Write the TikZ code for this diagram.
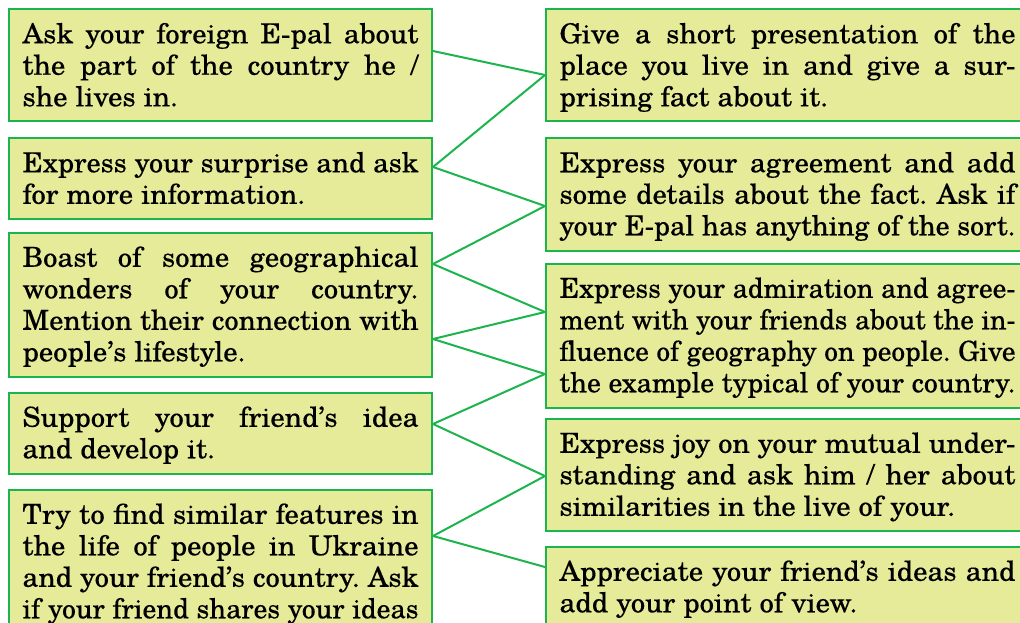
\documentclass[tikz,border=0pt]{standalone}
\usepackage{fontspec}
\usepackage{graphicx}
\setmainfont{texgyreschola-regular.otf}[FakeStretch=1.04, FakeBold=0.3]
\definecolor{bgreen}{RGB}{28,180,76}
\definecolor{bfill}{RGB}{230,235,153}
\newsavebox\linebox
\newcommand\stt{\rule[-6.5pt]{0pt}{31.5pt}}
\newcommand\jl[1]{{\spaceskip=0pt\xspaceskip=0pt\frenchspacing
  \sbox\linebox{#1}%
  \ifdim\wd\linebox>\hsize
    \resizebox{\hsize}{\height}{\usebox\linebox}%
  \else
    \makebox[\hsize][s]{#1}%
  \fi}\stt}
\newcommand\lastl[1]{{\spaceskip=0pt\xspaceskip=0pt\frenchspacing\stt#1}}
\begin{document}
\begin{tikzpicture}[x=1pt,y=-1pt,
  box/.style={draw=bgreen, line width=2pt, fill=bfill, anchor=north west,
    inner xsep=13.5pt, inner ysep=8.75pt, align=left,
    font=\fontsize{27.5}{31.5}\selectfont},
  lbox/.style={box, text width=396pt},
  rbox/.style={box, text width=456pt},
  link/.style={draw=bgreen, line width=2pt, line cap=round}]
\useasboundingbox (0,0) rectangle (1020,623);
\clip (0,0) rectangle (1020,623);
% left column
\node[lbox] (L1) at (8,8.5) {\jl{Ask your foreign E-pal about}\\\jl{the part of the country he /}\\\lastl{she lives in.}};
\node[lbox] (L2) at (8,137.5) {\jl{Express your surprise and ask}\\\lastl{for more information.}};
\node[lbox] (L3) at (8,232) {\jl{Boast of some geographical}\\\jl{wonders of your country.}\\\jl{Mention their connection with}\\\lastl{people’s lifestyle.}};
\node[lbox] (L4) at (8,392) {\jl{Support your friend’s idea}\\\lastl{and develop it.}};
\node[lbox] (L5) at (8,489) {\jl{Try to find similar features in}\\\jl{the life of people in Ukraine}\\\jl{and your friend’s country. Ask}\\\jl{if your friend shares your ideas}};
% right column
\node[rbox] (R1) at (545,8.5) {\jl{Give a short presentation of the}\\\jl{place you live in and give a sur-}\\\lastl{prising fact about it.}};
\node[rbox] (R2) at (545,137.5) {\jl{Express your agreement and add}\\\jl{some details about the fact. Ask if}\\\jl{your E-pal has anything of the sort.}};
\node[rbox] (R3) at (545,263) {\jl{Express your admiration and agree-}\\\jl{ment with your friends about the in-}\\\jl{fluence of geography on people. Give}\\\jl{the example typical of your country.}};
\node[rbox] (R4) at (545,418) {\jl{Express joy on your mutual under-}\\\jl{standing and ask him / her about}\\\lastl{similarities in the live of your.}};
\node[rbox] (R5) at (545,546) {\jl{Appreciate your friend’s ideas and}\\\lastl{add your point of view.}};
% connector ends
\coordinate (l1) at ([yshift=-42.5pt]L1.north east);
\coordinate (l2) at ([yshift=-29.5pt]L2.north east);
\coordinate (l3a) at ([yshift=-32pt]L3.north east);
\coordinate (l3b) at ([yshift=-107pt]L3.north east);
\coordinate (l4) at ([yshift=-32pt]L4.north east);
\coordinate (l5) at ([yshift=-47pt]L5.north east);
\coordinate (r1) at ([yshift=-66.5pt]R1.north west);
\coordinate (r2) at ([yshift=-68.5pt]R2.north west);
\coordinate (r3a) at ([yshift=-49pt]R3.north west);
\coordinate (r3b) at ([yshift=-111pt]R3.north west);
\coordinate (r4) at ([yshift=-58pt]R4.north west);
\coordinate (r5) at ([yshift=-21pt]R5.north west);
\draw[link] (l1) -- (r1);
\draw[link] (l2) -- (r1);
\draw[link] (l2) -- (r2);
\draw[link] (l3a) -- (r2);
\draw[link] (l3a) -- (r3a);
\draw[link] (l3b) -- (r3a);
\draw[link] (l3b) -- (r3b);
\draw[link] (l4) -- (r3b);
\draw[link] (l4) -- (r4);
\draw[link] (l5) -- (r4);
\draw[link] (l5) -- (r5);
\end{tikzpicture}
\end{document}
